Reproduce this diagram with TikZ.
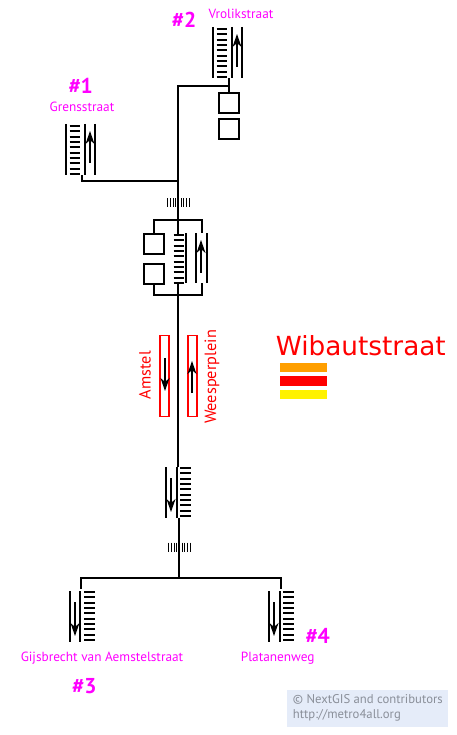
\documentclass[tikz,border=0pt]{standalone}
\usepackage{fontspec}
\setmainfont{PT Sans}
\newfontfamily\titlefont{DejaVu Sans}
\usetikzlibrary{arrows.meta}
\definecolor{exitcolor}{HTML}{FF00FF}
\definecolor{noticefill}{HTML}{E5ECF9}
\definecolor{noticetext}{HTML}{8A8F99}
\tikzset{
    link/.style={draw=black, line width=1.6pt},
    lift/.style={
           rectangle,
           draw=black, line width=1.6pt,
           outer sep=0pt,
           minimum width=20pt,
           minimum height=20pt,
           inner sep=0pt,
           },
    platform/.style={
           rectangle,
           draw=red, line width=1.6pt,
           minimum width=9pt,
           minimum height=81pt,
           inner sep=0pt,
           },
    rail/.style={draw=black, line width=1.4pt},
    tread/.style={draw=black, line width=1.5pt},
    walk/.style={draw=black, line width=1.4pt,
           -{Stealth[length=13pt,width=9pt,inset=4pt]}},
    exitname/.style={text=exitcolor, font=\fontsize{13.3}{15}\selectfont, inner sep=0pt},
    exitnum/.style={text=exitcolor, font=\fontsize{21.5}{25}\selectfont\bfseries, inner sep=0pt},
    platname/.style={text=red, font=\fontsize{16.3}{19}\selectfont, inner sep=0pt, rotate=90},
    noticeline/.style={text=noticetext, font=\fontsize{12.7}{15}\selectfont, inner sep=0pt, anchor=west},
    stepsleft/.pic={
        \foreach \y in {2,7,13,18,23,29,34,39,45,50}
            \draw[tread] (3.5,\y) -- (14,\y);
    },
    stepsright/.pic={
        \foreach \y in {1,6,12,17,22,28,33,38,44,49}
            \draw[tread] (14,\y) -- (24.5,\y);
    },
    gates/.pic={
        \foreach \x in {0,2.7,5.4,8,13.4,16,18.7,21.4}
            \draw[draw=black, line width=1.1pt] (\x,0) -- (\x,9);
    },
}
\begin{document}
\begin{tikzpicture}[x=1pt,y=-1pt]
    \useasboundingbox (0,0) rectangle (456,735);

    % stairs going up: Grensstraat
    \pic (gre) at (66,124) {stepsleft};
    \draw[rail] (66,124) -- (66,175);
    \draw[rail] (85,124) -- (85,175);
    \draw[rail] (95,124) -- (95,175);
    \draw[walk] (90,163) -- (90,131);

    % stairs going up: Vrolikstraat
    \pic (vro) at (213,27) {stepsleft};
    \draw[rail] (213,27) -- (213,78);
    \draw[rail] (232,27) -- (232,78);
    \draw[rail] (242,27) -- (242,78);
    \draw[walk] (237,67) -- (237,34);

    % lifts at the top
    \node[lift] (lifta) at (229,103) {};
    \node[lift] (liftb) at (229,129) {};

    % main hall
    \node[lift] (liftc) at (154,244) {};
    \node[lift] (liftd) at (154,274) {};
    \pic (hall) at (170,233) {stepsleft};
    \draw[rail] (186,233) -- (186,283);
    \draw[rail] (196,233) -- (196,283);
    \draw[rail] (207,233) -- (207,283);
    \draw[walk] (201,272.5) -- (201,240);

    % turnstiles
    \pic (gatea) at (167.7,198.3) {gates};
    \pic (gateb) at (168.7,542.5) {gates};

    % platforms
    \node[platform] (amstel) at (164.7,375.8) {};
    \node[platform] (weesper) at (192.3,375.8) {};
    \draw[walk] (165,358) -- (165,391);
    \draw[walk] (192,393) -- (192,361);
    \node[platname] (amstelname) at (145,375) {Amstel};
    \node[platname] (weespername) at (212,377) {Weesperplein};

    % stairs going down
    \pic (mid) at (166,467) {stepsright};
    \draw[rail] (166,467) -- (166,518);
    \draw[rail] (177,467) -- (177,518);
    \draw[walk] (171,478) -- (171,512);

    \pic (gij) at (70,591) {stepsright};
    \draw[rail] (70,591) -- (70,642);
    \draw[rail] (80,591) -- (80,642);
    \draw[walk] (75,602) -- (75,636);

    \pic (pla) at (269,591) {stepsright};
    \draw[rail] (269,591) -- (269,642);
    \draw[rail] (280,591) -- (280,642);
    \draw[walk] (274,602) -- (274,636);

    % junctions of the lines
    \coordinate (topjoin) at (178,86);
    \coordinate (grejoin) at (178,181);
    \coordinate (hallup) at (178,220);
    \coordinate (halldown) at (178,295);
    \coordinate (hallbot) at (178,283);
    \coordinate (halltop) at (178,234);
    \coordinate (midup) at (178,467);
    \coordinate (middown) at (179,518);
    \coordinate (basejoin) at (179,578);

    % draw the lines
    \draw[link] (grejoin) -| (82,175);
    \draw[link] (halltop) -- (topjoin) -- (topjoin -| lifta) -- (lifta.north);
    \draw[link] (topjoin -| lifta) -- (229,78);
    \draw[link] (liftc.north) |- (hallup) -| (202,233);
    \draw[link] (liftd.south) |- (halldown) -| (202,283);
    \draw[link] (hallbot) -- (midup);
    \draw[link] (middown) -- (basejoin);
    \draw[link] (81,589) |- (basejoin) -| (281,589);

    % names and numbers of the exits
    \node[exitnum] (numa) at (80.7,86) {\#1};
    \node[exitnum] (numb) at (184,19.5) {\#2};
    \node[exitnum] (numc) at (84.3,686) {\#3};
    \node[exitnum] (numd) at (317.7,636) {\#4};
    \node[exitname] (grename) at (82,106.7) {Grensstraat};
    \node[exitname] (vroname) at (241,14) {Vrolikstraat};
    \node[exitname] (gijname) at (102,658.5) {Gijsbrecht van Aemstelstraat};
    \node[exitname] (planame) at (277.7,658.5) {Platanenweg};

    % station name and lines
    \node[text=red, font=\titlefont\fontsize{26.3}{30}\selectfont, inner sep=0pt, anchor=base] (title) at (360.8,355.7) {Wibautstraat};
    \fill[fill={rgb,255:red,255;green,159;blue,0}] (280,363) rectangle (327,372.3);
    \fill[fill=red] (280,376.3) rectangle (327,386);
    \fill[fill=yellow] (280,389.7) rectangle (327,399);

    % notice
    \node[fill=noticefill, minimum width=160.7pt, minimum height=36.4pt, inner sep=0pt] (notice) at (367.3,708.5) {};
    \node[noticeline] (noticea) at (292.7,699) {© NextGIS and contributors};
    \node[noticeline] (noticeb) at (292.7,715.7) {http://metro4all.org};
\end{tikzpicture}
\end{document}
